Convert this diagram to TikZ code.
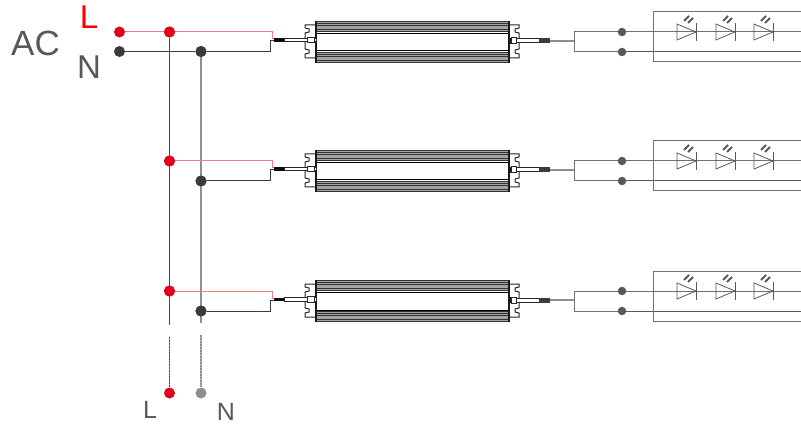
\documentclass[tikz,border=0pt]{standalone}
\usepackage{fontspec}
\setmainfont{Liberation Sans}
\definecolor{wred}{HTML}{E60020}
\definecolor{wpink}{HTML}{F07C8A}
\definecolor{wdark}{HTML}{3E3A39}
\definecolor{wgray}{HTML}{595757}
\definecolor{wmid}{HTML}{8E8E8E}
\definecolor{dotgray}{HTML}{58585A}
\tikzset{
  x=1pt,y=-1pt,
  reddot/.style={circle,fill=wred,draw=none,inner sep=0pt,minimum size=11pt},
  darkdot/.style={circle,fill=wdark,draw=none,inner sep=0pt,minimum size=11pt},
  smalldot/.style={circle,fill=dotgray,draw=none,inner sep=0pt,minimum size=8.5pt},
  greydot/.style={circle,fill=wmid,draw=none,inner sep=0pt,minimum size=11pt},
  textlabel/.style={inner sep=0pt,text=wgray},
  hot/.style={wpink,line width=1pt},
  neutral/.style={wdark,line width=1pt},
  outw/.style={wgray!85,line width=1pt},
  thinpart/.style={black!85,line width=1pt},
  ledline/.style={wgray,line width=.8pt},
  point/.style={inner sep=0pt,minimum size=0pt,outer sep=0pt},
}
% driver: #1 row id, #2 y of the L wire
\newcommand{\driverunit}[2]{%
  \begin{scope}[yshift=-#2pt]
    % heat sink fins
    \fill[wmid!80] (316,-11) rectangle (509,0);
    \foreach \yy in {-10.5,-8.5,-6.5,-0.5,-2.5}{\draw[black!80,line width=.5pt] (316,\yy) -- (509,\yy);}
    \fill[wmid!80] (316,20) rectangle (509,31);
    \foreach \yy in {20.5,22.5,24.5,28.5,30.5}{\draw[black!80,line width=.5pt] (316,\yy) -- (509,\yy);}
    \draw[black,line width=1pt] (316,1.5) -- (509,1.5) (316,19) -- (509,19);
    \draw[black!90,line width=1.6pt] (316,-11) -- (316,31) (509,-11) -- (509,31);
    % left flange
    \draw[thinpart] (316,-7) -- (305,-7) -- (305,-4) -- (309,-3) -- (309,0) -- (305,1) -- (305,17) -- (309,18) -- (309,21) -- (305,22) -- (305,26) -- (316,26);
    % right flange
    \draw[thinpart] (509,-7) -- (519,-7) -- (519,-4) -- (515,-3) -- (515,0) -- (519,1) -- (519,17) -- (515,18) -- (515,21) -- (519,22) -- (519,26) -- (509,26);
    % input lead
    \draw[thinpart,fill=white] (284,6.5) rectangle (316,10);
    \fill[black!95] (274,6.5) rectangle (284,10);
    \draw[thinpart,fill=white] (307,5.5) rectangle (314,11);
    % output lead
    \draw[thinpart,fill=white] (509,7) rectangle (540,11);
    \draw[thinpart,fill=white] (511,6) rectangle (516,12);
    \fill[black!90] (509,6) rectangle (511,12);
    \fill[wdark] (539,6.5) rectangle (550,11.5);
    \draw[wmid,line width=2.2pt] (550,9) -- (574,9);
  \end{scope}
  \node[point] (inL#1) at (274,#2+7) {};
  \node[point] (inN#1) at (274,#2+9) {};
  \node[point] (out#1) at (574,#2+9) {};
}
% led string: #1 row id, #2 y of the upper wire
\newcommand{\ledstring}[2]{%
  \node[smalldot] (a#1) at (622,#2) {};
  \node[smalldot] (b#1) at (622,#2+20) {};
  \node[point] (ea#1) at (801,#2) {};
  \node[point] (eb#1) at (801,#2+20) {};
  \draw[outw] (out#1.center) |- (a#1);
  \draw[outw] (out#1.center) |- (b#1);
  \draw[outw] (a#1) -- (ea#1);
  \draw[wgray,line width=1pt] (b#1) -- (eb#1);
  \draw[outw] (801,#2-20) -- (653,#2-20) -- (653,#2+30) -- (801,#2+30);
  \foreach \lx in {677,716,754}{
    \begin{scope}[xshift=\lx pt,yshift=-#2pt]
      \draw[ledline] (0,-8) -- (19,0) -- (0,8) -- cycle;
      \draw[ledline] (19,-9) -- (19,9);
      \draw[wgray,line width=1.8pt] (7,-11) -- (12,-16);
      \draw[wgray,line width=1.8pt] (11,-9) -- (16,-14);
    \end{scope}
  }
}
\begin{document}
\begin{tikzpicture}
\useasboundingbox (0,0) rectangle (801,425);

\node[textlabel,font=\fontsize{35}{35}\selectfont] (ac) at (35.5,43) {AC};
\node[inner sep=0pt,text=red,font=\fontsize{33}{33}\selectfont] (tl) at (89,17) {L};
\node[textlabel,font=\fontsize{33}{33}\selectfont] (tn) at (89,67) {N};
\node[textlabel,font=\fontsize{25}{25}\selectfont] (bl) at (150,410) {L};
\node[textlabel,font=\fontsize{25}{25}\selectfont] (bn) at (226,411.5) {N};

\node[reddot] (sL) at (119.5,32) {};
\node[darkdot] (sN) at (119.5,51.5) {};
\node[reddot] (j1L) at (169.5,32) {};
\node[darkdot] (j1N) at (201,51.5) {};
\node[reddot] (j2L) at (169.5,161) {};
\node[darkdot] (j2N) at (201,181) {};
\node[reddot] (j3L) at (169.5,291) {};
\node[darkdot] (j3N) at (201,311) {};
\node[point] (tailL) at (169.5,325) {};
\node[point] (tailN) at (201,323) {};
\node[point] (dotL) at (169.5,337) {};
\node[point] (dotN) at (201,335) {};
\node[reddot] (endL) at (169.5,393) {};
\node[greydot] (endN) at (201,393) {};

% verticals
\draw[wmid,line width=2pt] (j1N) -- (tailN);
\draw[wred,line width=1.3pt] (j1L) -- (tailL);
\draw[wpink,line width=1.5pt] (dotL) -- (endL);
\draw[wred,line width=1.5pt,dash pattern=on 2pt off 1pt] (dotL) -- (endL);
\draw[wmid!60,line width=1.5pt] (dotN) -- (endN);
\draw[wmid,line width=1.5pt,dash pattern=on 2pt off 1pt] (dotN) -- (endN);

\driverunit{1}{32}
\driverunit{2}{161}
\driverunit{3}{291}

% mains wires
\draw[hot] (sL) -- (j1L);
\draw[hot] (j1L) -| (272,39) -- (inL1.center);
\draw[neutral] (sN) -- (j1N);
\draw[neutral] (j1N) -| (270,41) -- (inN1.center);
\draw[hot] (j2L) -| (272,168) -- (inL2.center);
\draw[neutral] (j2N) -| (270,170) -- (inN2.center);
\draw[hot] (j3L) -| (272,298) -- (inL3.center);
\draw[neutral] (j3N) -| (270,300) -- (inN3.center);

\ledstring{1}{32}
\ledstring{2}{161}
\ledstring{3}{291}

% redraw dots over wires
\node[reddot] at (j1L) {};
\node[reddot] at (j2L) {};
\node[reddot] at (j3L) {};
\node[darkdot] at (j1N) {};
\node[darkdot] at (j2N) {};
\node[darkdot] at (j3N) {};
\end{tikzpicture}
\end{document}
